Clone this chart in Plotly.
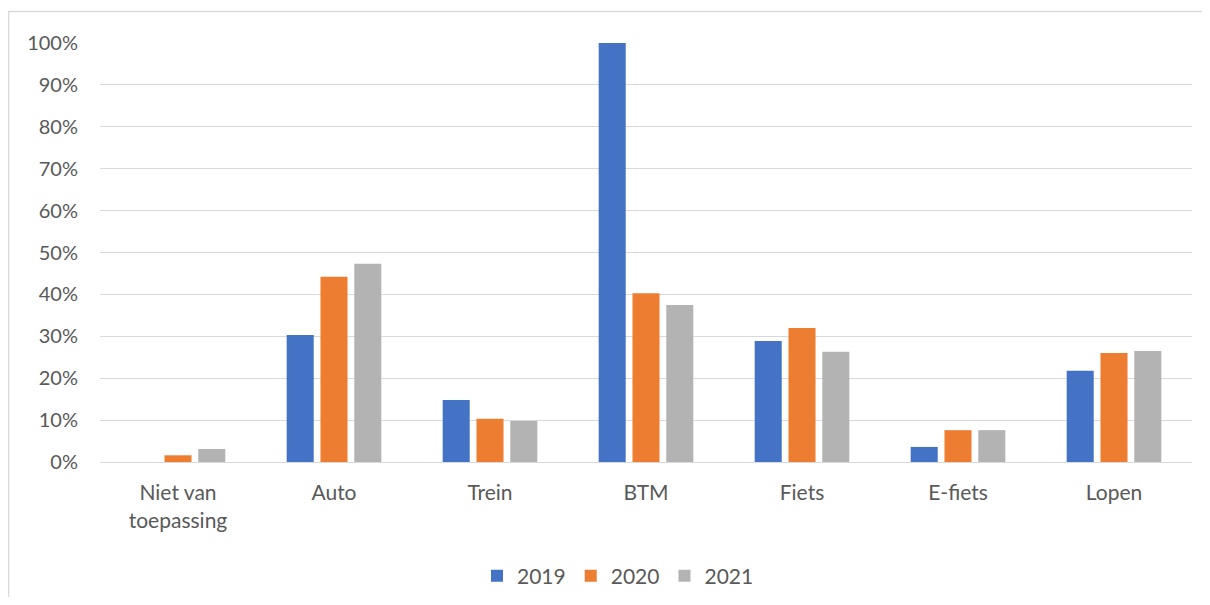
import plotly.graph_objects as go

categories = ["Niet van<br>toepassing", "Auto", "Trein", "BTM", "Fiets", "E-fiets", "Lopen"]
v2019 = [0.0, 0.303, 0.148, 1.00, 0.289, 0.036, 0.218]
v2020 = [0.016, 0.442, 0.103, 0.403, 0.320, 0.076, 0.260]
v2021 = [0.031, 0.473, 0.098, 0.375, 0.263, 0.076, 0.265]
years = ["2019", "2020", "2021"]
colors = ["#4472C4", "#ED7D31", "#B3B3B3"]

fig = go.Figure()
for name, vals, col in zip(years, [v2019, v2020, v2021], colors):
    fig.add_trace(go.Bar(x=categories, y=vals, name=name, marker=dict(color=col, line=dict(width=0))))

# page has 8px body margin; figure coordinates are page - 8
W, H = 1194, 589
L, T = 92, 35
R = W - 1184
B = H - 454
pw, ph = W - L - R, H - T - B

fam = "Lato, Open Sans, sans-serif"
fig.update_layout(
    width=W, height=H,
    margin=dict(l=L, r=R, t=T, b=B, autoexpand=False),
    paper_bgcolor="white", plot_bgcolor="white",
    barmode="group", bargap=0.35, bargroupgap=0.2,
    font=dict(family=fam, size=20, color="#595959"),
    legend=dict(orientation="h", xref="container", x=(618 - 8) / W, xanchor="center",
                yref="container", y=1 - (576 - 8) / H, yanchor="middle",
                font=dict(family=fam, size=21, color="#595959"), traceorder="normal"),
    xaxis=dict(showgrid=False, showline=True, linecolor="#D9D9D9", linewidth=1, ticks="", automargin=False,
               ticklabelstandoff=12, tickfont=dict(family=fam, size=21, color="#595959")),
    yaxis=dict(range=[0, 1.0], dtick=0.1, tickformat=".0%", showgrid=True, gridcolor="#D9D9D9",
               gridwidth=1, zeroline=False, showline=False, ticks="", ticklabelstandoff=21, automargin=False,
               tickfont=dict(family=fam, size=20, color="#595959")),
)

# outer chart frame
fig.add_shape(type="rect", xref="paper", yref="paper",
              x0=(0.5 - L) / pw, x1=(1215 - L) / pw,
              y0=(454 - 612) / ph, y1=(454 - 3.5) / ph,
              line=dict(color="#D9D9D9", width=1.5), fillcolor="rgba(0,0,0,0)", layer="below")

fig.write_html("out.html")
